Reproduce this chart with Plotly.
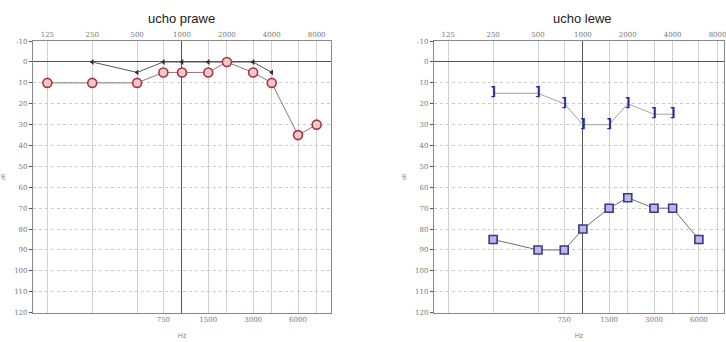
import plotly.graph_objects as go

# ---- data ----
freq_top = [125, 250, 500, 1000, 2000, 4000, 8000]
freq_bottom = [750, 1500, 3000, 6000]
db_ticks = [-10, 0, 10, 20, 30, 40, 50, 60, 70, 80, 90, 100, 110, 120]

right_air_f = [125, 250, 500, 750, 1000, 1500, 2000, 3000, 4000, 6000, 8000]
right_air_db = [10, 10, 10, 5, 5, 5, 0, 5, 10, 35, 30]
right_bone_f = [250, 500, 750, 1000, 1500, 2000, 3000, 4000]
right_bone_db = [0, 5, 0, 0, 0, 0, 0, 5]

left_air_f = [250, 500, 750, 1000, 1500, 2000, 3000, 4000, 6000]
left_air_db = [85, 90, 90, 80, 70, 65, 70, 70, 85]
left_bone_f = [250, 500, 750, 1000, 1500, 2000, 3000, 4000]
left_bone_db = [15, 15, 20, 30, 30, 20, 25, 25]

titles = ["ucho prawe", "ucho lewe"]

W, H = 726, 342
dom_l = [33 / W, 332 / W]
dom_r = [435 / W, 1.0]
ydom = [1 - 316 / H, 1 - 38 / H]
range_l = [2.0, 4.0]
range_r = [2.0, 2.0 + (726 - 435) / 149.5]

fig = go.Figure()

# empty traces so the overlaying (top / reference-line) axes get drawn
for xa, ya in [("x3", "y"), ("x5", "y"), ("x4", "y2"), ("x6", "y2")]:
    fig.add_trace(go.Scatter(x=[], y=[], xaxis=xa, yaxis=ya, showlegend=False,
                             hoverinfo="skip"))

# right ear (ucho prawe) - left panel
fig.add_trace(go.Scatter(x=right_bone_f, y=right_bone_db, mode="lines+markers",
                         line=dict(color="#555555", width=1),
                         marker=dict(symbol="triangle-left", size=5, color="#3a2a2a"),
                         xaxis="x", yaxis="y", showlegend=False))
fig.add_trace(go.Scatter(x=right_air_f, y=right_air_db, mode="lines+markers",
                         line=dict(color="#8a7a7a", width=1),
                         marker=dict(symbol="circle", size=9, color="#f0c8c8",
                                     line=dict(color="#b03040", width=1.6)),
                         xaxis="x", yaxis="y", showlegend=False))

# left ear (ucho lewe) - right panel
fig.add_trace(go.Scatter(x=left_bone_f, y=left_bone_db, mode="lines+text",
                         line=dict(color="#a0a890", width=1),
                         text=["<b>]</b>"] * len(left_bone_f), textposition="middle center",
                         textfont=dict(color="#2a2a90", size=12, family="DejaVu Sans"),
                         xaxis="x2", yaxis="y2", showlegend=False))
fig.add_trace(go.Scatter(x=left_air_f, y=left_air_db, mode="lines+markers",
                         line=dict(color="#707070", width=1),
                         marker=dict(symbol="square", size=8, color="#b8b8e0",
                                     line=dict(color="#38388a", width=1.6)),
                         xaxis="x2", yaxis="y2", showlegend=False))

tickfont = dict(size=7, color="#777777", family="DejaVu Serif")
common_x = dict(type="log", showline=True, linecolor="#888888", linewidth=1,
                gridcolor="#d0d0d0", gridwidth=1, tickfont=tickfont, ticks="",
                zeroline=False, ticklabeloverflow="allow")
common_y = dict(range=[120, -10], tickvals=db_ticks, ticktext=[str(v) for v in db_ticks],
                showline=True, linecolor="#888888", linewidth=1, mirror=True,
                gridcolor="#cccccc", griddash="dot", gridwidth=1,
                zeroline=True, zerolinecolor="#555555", zerolinewidth=1.2,
                ticks="outside", ticklen=3, tickcolor="#555555",
                tickfont=tickfont, domain=ydom,
                title=dict(text="dB", font=dict(size=5, color="#777777"), standoff=8))

fig.update_layout(
    width=W, height=H, margin=dict(l=0, r=0, t=0, b=0),
    paper_bgcolor="white", plot_bgcolor="white",
    xaxis=dict(common_x, domain=dom_l, range=range_l, anchor="y", side="bottom",
               tickvals=freq_bottom, ticktext=[str(v) for v in freq_bottom],
               mirror=True,
               title=dict(text="Hz", font=dict(size=7, color="#777777"), standoff=10)),
    xaxis3=dict(common_x, range=range_l, overlaying="x", anchor="y", side="top",
                tickvals=freq_top, ticktext=[str(v) for v in freq_top]),
    xaxis5=dict(common_x, range=range_l, overlaying="x", anchor="y", side="top",
                tickvals=[1000], showticklabels=False, gridcolor="#555555", showline=False),
    yaxis=dict(common_y, anchor="x"),
    xaxis2=dict(common_x, domain=dom_r, range=range_r, anchor="y2", side="bottom",
                tickvals=freq_bottom, ticktext=[str(v) for v in freq_bottom],
                mirror=True,
                title=dict(text="Hz", font=dict(size=7, color="#777777"), standoff=10)),
    xaxis4=dict(common_x, range=range_r, overlaying="x2", anchor="y2", side="top",
                tickvals=freq_top, ticktext=[str(v) for v in freq_top]),
    xaxis6=dict(common_x, range=range_r, overlaying="x2", anchor="y2", side="top",
                tickvals=[1000], showticklabels=False, gridcolor="#555555", showline=False),
    yaxis2=dict(common_y, anchor="x2"),
    annotations=[
        dict(text=titles[0], x=sum(dom_l) / 2, y=1 - 15 / H, xref="paper", yref="paper",
             xanchor="center", yanchor="middle",
             showarrow=False, font=dict(size=13, color="#222222", family="Liberation Sans")),
        dict(text=titles[1], x=(435 + 734) / 2 / W, y=1 - 15 / H, xref="paper", yref="paper",
             xanchor="center", yanchor="middle",
             showarrow=False, font=dict(size=13, color="#222222", family="Liberation Sans")),
    ],
)

fig.write_html("out.html")
